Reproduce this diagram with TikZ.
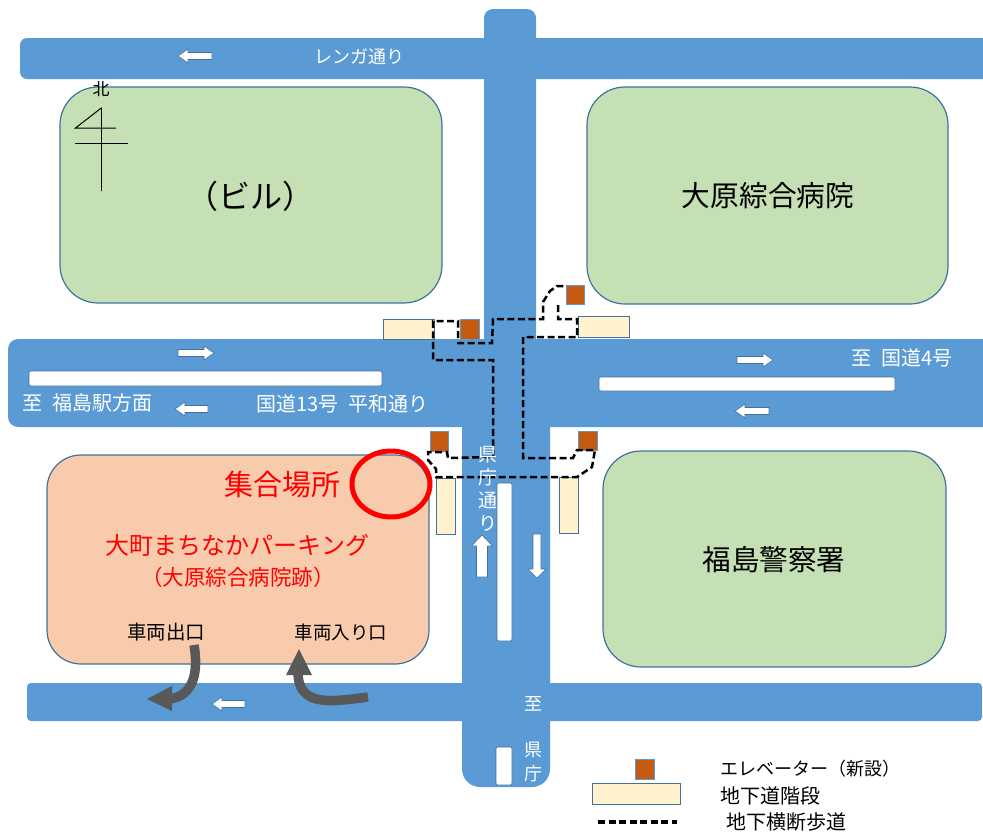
\documentclass[tikz,border=0pt]{standalone}
\usepackage{fontspec}
\setmainfont{Noto Sans CJK JP}
\newcommand{\fs}[1]{\fontsize{#1}{#1}\selectfont}
\newcommand{\blockarrow}[4]{% x, y, rotation, length
  \begin{scope}[shift={(#1,#2)},rotate=#3]
    \draw[arrowline] (0,-3.5) -- (#4-10,-3.5) -- (#4-10,-7) -- (#4,0) -- (#4-10,7) -- (#4-10,3.5) -- (0,3.5) -- cycle;
  \end{scope}}
\tikzset{
  road/.style={fill=roadc,draw=none},
  median/.style={fill=white,draw=edgec,line width=0.6pt,rounded corners=2pt},
  block/.style={fill=greenc,draw=edgec,line width=1.2pt,rounded corners=38pt},
  stairbox/.style={fill=stairc,draw=edgec,line width=1pt},
  liftbox/.style={fill=liftc,draw=roadc,line width=1pt},
  walkway/.style={draw=black,line width=2.5pt,dash pattern=on 7pt off 3.5pt},
  arrowline/.style={fill=white,draw=edgec,line width=0.6pt},
  turnline/.style={draw=turnc,line width=9.5pt},
  turnhead/.style={fill=turnc,draw=none},
  roadtext/.style={text=white,inner sep=0pt},
  inktext/.style={text=black,inner sep=0pt},
  redtext/.style={text=red,inner sep=0pt},
}
\definecolor{roadc}{HTML}{5B9BD5}
\definecolor{edgec}{HTML}{41719C}
\definecolor{greenc}{HTML}{C5E0B4}
\definecolor{orangec}{HTML}{F8CBAD}
\definecolor{stairc}{HTML}{FFF2CC}
\definecolor{liftc}{HTML}{C55A11}
\definecolor{turnc}{HTML}{595959}
\begin{document}
\begin{tikzpicture}[x=1pt,y=-1pt]
\useasboundingbox[fill=white] (0,0) rectangle (983,835);
% roads
\fill[road,rounded corners=7pt] (20,38) rectangle (1010,79);
\fill[road,rounded corners=9pt] (484,9) rectangle (536,360);
\fill[road,rounded corners=10pt] (8,339) rectangle (1010,427);
\fill[road,rounded corners=18pt] (462,410) rectangle (550,787);
\fill[road,rounded corners=4pt] (27,683) rectangle (982,721);
% medians
\draw[median] (29,371) rectangle (382,386);
\draw[median] (599,377) rectangle (895,391);
\draw[median] (497,483) rectangle (512,641);
\draw[median] (496,747) rectangle (512,785);
% blocks
\draw[block] (60,87) rectangle (442,303);
\draw[block] (587,87) rectangle (948,304);
\draw[block] (603,451) rectangle (946,667);
\draw[block,fill=orangec,rounded corners=34pt] (47,455) rectangle (429,664);
% stairs
\draw[stairbox] (383,319) rectangle (434,339);
\draw[stairbox] (578,316) rectangle (629,337);
\draw[stairbox] (436,478) rectangle (455,534);
\draw[stairbox] (559,477) rectangle (578,533);
\draw[stairbox] (592,783) rectangle (680,804);
% lifts
\draw[liftbox] (460,319) rectangle (479,339);
\draw[liftbox] (566,285) rectangle (584,304);
\draw[liftbox] (430,431) rectangle (448,451);
\draw[liftbox] (578,431) rectangle (597,450);
\draw[liftbox] (635,759) rectangle (654,779);
% walkways
\draw[walkway] (457,343) -- (492,343) -- (493,319) -- (543,319) -- (543,302) -- (550,291) -- (557,286) -- (565,286);
\draw[walkway] (558,305) -- (558,319) -- (577,319) -- (577,337) -- (523,337) -- (523,458) -- (573,458) -- (577,450) -- (595,450) -- (592,467) -- (577,477) -- (436,477) -- (436,469) -- (428,460) -- (428,452) -- (447,452) -- (448,458) -- (493,457) -- (493,360) -- (433,360) -- (433,321) -- (458,321) -- (458,338);
\draw[walkway,line width=3.5pt] (598,822) -- (677,822);
% meeting point
\draw[draw=red,line width=5pt] (391,484) ellipse [x radius=39,y radius=33];
% white arrows
\blockarrow{212}{56}{180}{34}
\blockarrow{178}{353}{0}{36}
\blockarrow{208}{409}{180}{33}
\blockarrow{737}{360}{0}{36}
\blockarrow{769}{411}{180}{34}
\blockarrow{245}{704}{180}{33}
\draw[arrowline] (476.5,577) -- (476.5,546) -- (471.5,546) -- (482,535) -- (492.5,546) -- (487.5,546) -- (487.5,577) -- cycle;
\draw[arrowline] (533,534) -- (533,569) -- (528,569) -- (537,578) -- (546,569) -- (541,569) -- (541,534) -- cycle;
% turning arrows
\draw[turnline] (194,645) .. controls (198,668) and (196,697) .. (168,699);
\fill[turnhead] (147,699) -- (172,686) -- (172,711) -- cycle;
\draw[turnline] (368,697) .. controls (330,702) and (298,707) .. (298,672);
\fill[turnhead] (299,649) -- (286,675) -- (312,675) -- cycle;
% compass
\draw[black,line width=1pt] (101.7,107.7) -- (75.5,128) -- (116,128);
\draw[black,line width=0.8pt] (75,143.5) -- (128,143.5);
\draw[black,line width=0.8pt] (101.7,107.7) -- (101.7,191);
\node[inktext,font=\fs{17}] (north) at (101,89) {北};
% labels
\node[roadtext,font=\fs{18}] (renga) at (359,57) {レンガ通り};
\node[inktext,font=\fs{32}] (bldg) at (250,196) {（ビル）};
\node[inktext,font=\fs{28.7}] (hospital) at (768,196) {大原綜合病院};
\node[inktext,font=\fs{28.6}] (police) at (774,560) {福島警察署};
\node[redtext,font=\fs{29}] (meet) at (282,485) {集合場所};
\node[redtext,font=\fs{24}] (park) at (237.5,545) {大町まちなかパーキング};
\node[redtext,font=\fs{21.5}] (parksub) at (238,577) {（大原綜合病院跡）};
\node[inktext,font=\fs{19.5}] (exitlbl) at (166,632) {車両出口};
\node[inktext,font=\fs{18.5}] (entrylbl) at (341,633) {車両入り口};
\node[roadtext,font=\fs{20},anchor=west] (west) at (22,403) {至\hspace{0.5em}福島駅方面};
\node[roadtext,font=\fs{20},anchor=west] (r13) at (256,404) {国道13号\hspace{0.5em}平和通り};
\node[roadtext,font=\fs{20},anchor=west] (east) at (851,358) {至\hspace{0.5em}国道4号};
\node[roadtext,font=\fs{19},align=center] (kencho) at (488,489) {県\\[4pt]庁\\[4pt]通\\[4pt]り};
\node[roadtext,font=\fs{18}] (to) at (533,704) {至};
\node[roadtext,font=\fs{18},align=center] (kencho2) at (533,762) {県\\[6pt]庁};
\node[inktext,font=\fs{18},anchor=west] (lg1) at (720,769) {エレベーター（新設）};
\node[inktext,font=\fs{20},anchor=west] (lg2) at (720,796) {地下道階段};
\node[inktext,font=\fs{20},anchor=west] (lg3) at (726,822) {地下横断歩道};
\end{tikzpicture}
\end{document}
